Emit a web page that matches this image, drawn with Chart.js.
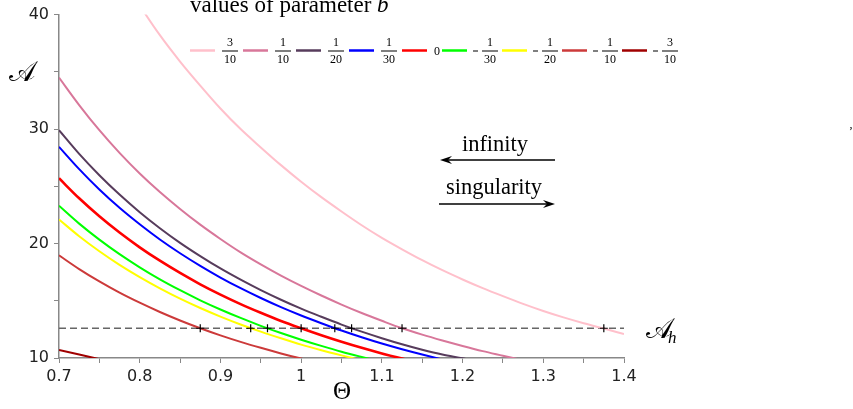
<!DOCTYPE html>
<html>
<head>
<meta charset="utf-8">
<script src="https://cdn.jsdelivr.net/npm/chart.js@4.4.1/dist/chart.umd.min.js"></script>
<style>
    html, body { margin: 0; padding: 0; background: #ffffff; }
    #wrap { width: 853px; height: 409px; position: relative; }
</style>
</head>
<body>
<div id="wrap"><canvas id="mainChart" width="853" height="409"></canvas></div>
<script>
// values
const theta = [0.7, 0.725, 0.75, 0.775, 0.8, 0.825, 0.85, 0.875, 0.9, 0.925, 0.95, 0.975, 1.0,
    1.025, 1.05, 1.075, 1.1, 1.125, 1.15, 1.175, 1.2, 1.225, 1.25, 1.275, 1.3, 1.325, 1.35, 1.375, 1.4];

const bLabels = ['3/10', '1/10', '1/20', '1/30', '0', '-1/30', '-1/20', '-1/10', '-3/10'];
const bColors = ['#ffc0cb', '#d8779a', '#573c5c', '#0000ff', '#ff0000', '#00ff00', '#ffff00', '#cc3a3a', '#a00000'];

const aPlus3_10  = [53.8, 50.0, 46.6, 43.6, 40.8, 38.2, 35.9, 33.8, 31.8, 30.0, 28.4, 26.85, 25.4,
    24.05, 22.8, 21.6, 20.5, 19.5, 18.55, 17.67, 16.86, 16.1, 15.4, 14.73, 14.11, 13.55, 13.04, 12.57, 12.09];
const aPlus1_10  = [34.5, 32.1, 29.9, 27.92, 26.12, 24.5, 23.02, 21.65, 20.4, 19.23, 18.18, 17.2, 16.3,
    15.46, 14.67, 13.93, 13.25, 12.6, 12.04, 11.53, 11.05, 10.6, 10.2, 9.8];
const aPlus1_20  = [29.9, 27.83, 25.97, 24.28, 22.74, 21.34, 20.06, 18.9, 17.82, 16.84, 15.93, 15.09, 14.31,
    13.6, 12.92, 12.3, 11.73, 11.2, 10.72, 10.3, 9.97, 9.6];
const aPlus1_30  = [28.45, 26.5, 24.72, 23.12, 21.68, 20.35, 19.15, 18.05, 17.03, 16.1, 15.24, 14.44, 13.71,
    13.04, 12.4, 11.81, 11.26, 10.76, 10.3, 9.87, 9.45];
const aZero      = [25.7, 23.95, 22.38, 20.96, 19.67, 18.5, 17.43, 16.44, 15.54, 14.71, 13.95, 13.24, 12.6,
    11.99, 11.42, 10.89, 10.4, 9.95, 9.52];
const aMinus1_30 = [23.3, 21.74, 20.34, 19.07, 17.92, 16.87, 15.92, 15.04, 14.24, 13.5, 12.81, 12.18, 11.6,
    11.06, 10.55, 10.09, 9.65];
const aMinus1_20 = [22.1, 20.64, 19.33, 18.14, 17.07, 16.09, 15.19, 14.37, 13.62, 12.93, 12.3, 11.72, 11.17,
    10.68, 10.23, 9.8];
const aMinus1_10 = [18.97, 17.77, 16.69, 15.71, 14.83, 14.02, 13.28, 12.6, 11.98, 11.41, 10.89, 10.4, 9.95, 9.53];
const aMinus3_10 = [10.7, 10.3, 9.9, 9.5];

const seriesList = [aPlus3_10, aPlus1_10, aPlus1_20, aPlus1_30, aZero, aMinus1_30, aMinus1_20, aMinus1_10, aMinus3_10];

const aH = 12.6;
const hitTheta = [0.875, 0.9375, 0.9583, 1.0, 1.0417, 1.0625, 1.125, 1.375];

const xTicks = [0.7, 0.8, 0.9, 1, 1.1, 1.2, 1.3, 1.4];
const yTicks = [10, 20, 30, 40];

const SERIF = '"Liberation Serif", "DejaVu Serif", serif';

document.addEventListener('DOMContentLoaded', function() {
    initChart();
});

function toPoints(values) {
    // a series stops where its values stop
    return values.map(function(v, i) {
        return { x: theta[i], y: v };
    });
}

function buildDatasets() {
    const sets = seriesList.map(function(values, i) {
        return {
            label: bLabels[i],
            data: toPoints(values),
            borderColor: bColors[i],
            borderWidth: bLabels[i] === '0' ? 2.6 : 2,
            pointRadius: 0,
            cubicInterpolationMode: 'monotone',
            order: 2
        };
    });

    sets.push({
        label: 'Ah',
        data: [{ x: theta[0], y: aH }, { x: theta[theta.length - 1], y: aH }],
        borderColor: '#666666',
        borderWidth: 1.3,
        borderDash: [7, 4],
        pointRadius: 0,
        order: 3
    });

    sets.push({
        type: 'scatter',
        label: 'hits',
        data: hitTheta.map(function(t) { return { x: t, y: aH }; }),
        pointStyle: 'cross',
        pointRadius: 4,
        borderColor: '#000000',
        borderWidth: 1.2,
        order: 0
    });

    return sets;
}

function drawFraction(ctx, label, x, y) {
    // returns the width used
    let w = 0;
    let text = label;
    ctx.fillStyle = '#000';
    ctx.textBaseline = 'middle';
    ctx.font = '12px ' + SERIF;
    if (text[0] === '-') {
        ctx.fillRect(x - 1, y, 5, 1);
        w += 8;
        text = text.slice(1);
    }
    if (text.indexOf('/') < 0) {
        ctx.textAlign = 'left';
        ctx.fillText(text, x + w, y + 1);
        return w + ctx.measureText(text).width;
    }
    const parts = text.split('/');
    const bar = Math.max(ctx.measureText(parts[0]).width, ctx.measureText(parts[1]).width) + 4;
    ctx.textAlign = 'center';
    ctx.fillText(parts[0], x + w + bar / 2, y - 7.5);
    ctx.fillText(parts[1], x + w + bar / 2, y + 9);
    ctx.fillRect(x + w, y, bar, 1);
    return w + bar;
}

function drawArrow(ctx, x1, x2, y) {
    const dir = x2 > x1 ? 1 : -1;
    ctx.strokeStyle = '#000';
    ctx.lineWidth = 1.5;
    ctx.beginPath();
    ctx.moveTo(x1, y);
    ctx.lineTo(x2 - dir * 6, y);
    ctx.stroke();
    ctx.fillStyle = '#000';
    ctx.beginPath();
    ctx.moveTo(x2, y);
    ctx.lineTo(x2 - dir * 12, y - 4);
    ctx.lineTo(x2 - dir * 8, y);
    ctx.lineTo(x2 - dir * 12, y + 4);
    ctx.closePath();
    ctx.fill();
}

const annotations = {
    id: 'annotations',
    afterDraw: function(chart) {
        const ctx = chart.ctx;
        ctx.save();

        // legend title
        ctx.fillStyle = '#000';
        ctx.textAlign = 'left';
        ctx.textBaseline = 'alphabetic';
        ctx.font = '23px ' + SERIF;
        const head = 'values of parameter ';
        ctx.fillText(head, 190, 12);
        const hw = ctx.measureText(head).width;
        ctx.font = 'italic 23px ' + SERIF;
        ctx.fillText('b', 190 + hw, 12);

        // legend row
        let x = 190;
        const ly = 50.5;
        bLabels.forEach(function(lab, i) {
            ctx.strokeStyle = bColors[i];
            ctx.lineWidth = 2.5;
            ctx.beginPath();
            ctx.moveTo(x, ly);
            ctx.lineTo(x + 25, ly);
            ctx.stroke();
            x += 32;
            const w = drawFraction(ctx, lab, x, ly);
            x += w + (lab === '0' ? 2 : lab[0] === '-' ? 4 : 5);
        });

        // direction notes
        ctx.fillStyle = '#000';
        ctx.textAlign = 'center';
        ctx.textBaseline = 'alphabetic';
        ctx.font = '22.5px ' + SERIF;
        ctx.fillText('infinity', 495, 151);
        drawArrow(ctx, 555, 440, 160);
        ctx.fillText('singularity', 494, 194);
        drawArrow(ctx, 439, 555, 204);

        // axis names
        ctx.textAlign = 'left';
        ctx.font = '28px ' + SERIF;
        ctx.fillText('\u{1D49C}', 9, 81);
        ctx.fillText('\u{1D49C}', 646, 338);
        ctx.font = 'italic 17px ' + SERIF;
        ctx.fillText('h', 668, 343);
        ctx.textAlign = 'center';
        ctx.font = '25px ' + SERIF;
        ctx.fillText('\u0398', 342, 399);
        ctx.font = '12px ' + SERIF;
        ctx.fillText(',', 851, 128);

        ctx.restore();
    }
};

function initChart() {
    const canvas = document.getElementById('mainChart');
    if (!canvas) return;

    new Chart(canvas, {
        type: 'line',
        data: { datasets: buildDatasets() },
        options: {
            responsive: false,
            animation: false,
            layout: { padding: { top: 14, right: 229, left: 0, bottom: 0 } },
            plugins: {
                legend: { display: false },
                tooltip: { enabled: false }
            },
            scales: {
                x: {
                    type: 'linear',
                    min: 0.7,
                    max: 1.4,
                    afterFit: function(scale) { scale.height = 51; },
                    afterBuildTicks: function(scale) {
                        const ticks = [];
                        for (let i = 0; i < xTicks.length; i++) {
                            ticks.push({ value: xTicks[i] });
                            if (i < xTicks.length - 1) ticks.push({ value: xTicks[i] + 0.05, minor: true });
                        }
                        scale.ticks = ticks;
                    },
                    ticks: {
                        autoSkip: false,
                        maxRotation: 0,
                        padding: 4,
                        color: '#222',
                        font: { family: '"DejaVu Sans"', size: 16 },
                        callback: function(value) {
                            const v = Math.round(value * 100) / 100;
                            return xTicks.indexOf(v) >= 0 ? String(v) : '';
                        }
                    },
                    grid: { drawOnChartArea: false, tickLength: 5, color: '#888' },
                    border: { color: '#888', width: 1.5 }
                },
                y: {
                    min: 10,
                    max: 40,
                    afterFit: function(scale) { scale.width = 59; },
                    afterBuildTicks: function(scale) {
                        const ticks = [];
                        for (let i = 0; i < yTicks.length; i++) {
                            ticks.push({ value: yTicks[i] });
                            if (i < yTicks.length - 1) ticks.push({ value: yTicks[i] + 5, minor: true });
                        }
                        scale.ticks = ticks;
                    },
                    ticks: {
                        padding: 5,
                        color: '#222',
                        font: { family: '"DejaVu Sans"', size: 16 },
                        callback: function(value) {
                            return yTicks.indexOf(value) >= 0 ? String(value) : '';
                        }
                    },
                    grid: { drawOnChartArea: false, tickLength: 5, color: '#888' },
                    border: { color: '#888', width: 1.5 }
                }
            }
        },
        plugins: [annotations]
    });
}
</script>
</body>
</html>
